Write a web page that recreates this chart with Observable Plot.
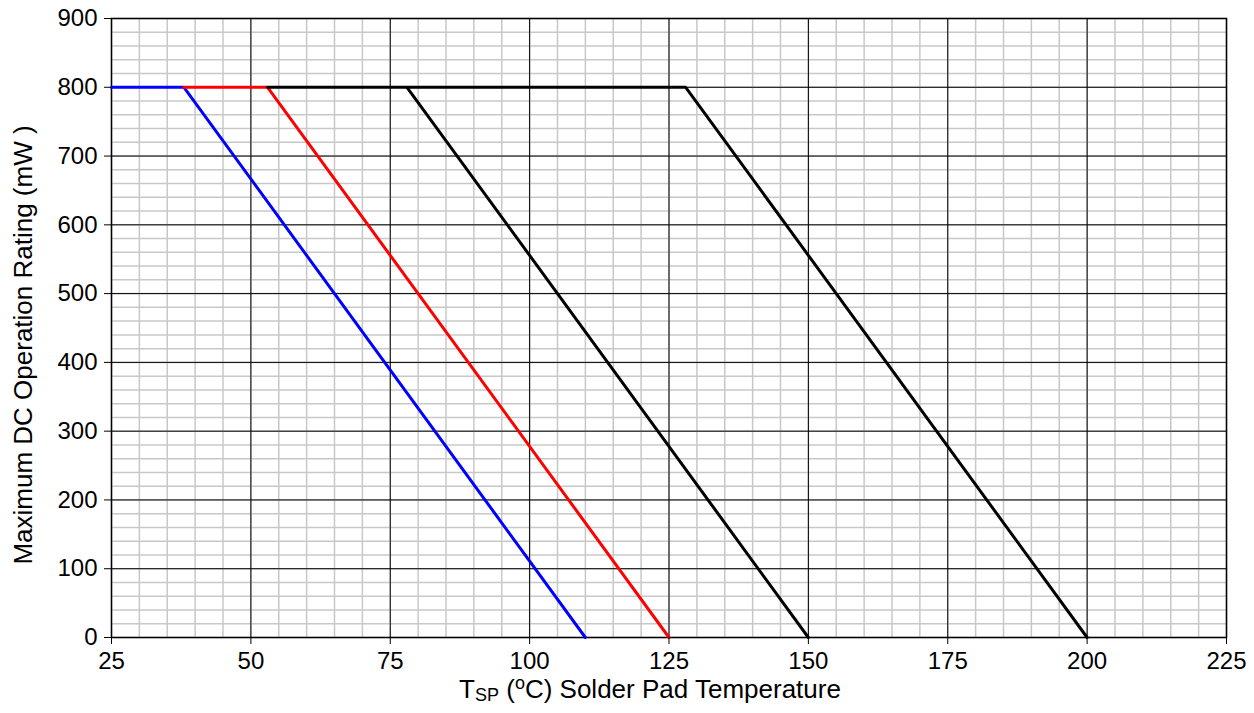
<!DOCTYPE html>
<html>
<head>
<meta charset="utf-8">
<script src="https://cdn.jsdelivr.net/npm/d3@7"></script>
<script src="https://cdn.jsdelivr.net/npm/@observablehq/plot@0.6"></script>
<style>
  html, body { margin: 0; padding: 0; background: #fff; }
  svg { display: block; }
</style>
</head>
<body>
<div id="chart"></div>
<script>
// Data
const blueTemp = [25, 38, 110];
const bluePower = [800, 800, 0];
const redTemp = [38, 53, 125];
const redPower = [800, 800, 0];
const black1Temp = [53, 78, 150];
const black1Power = [800, 800, 0];
const black2Temp = [78, 128, 200];
const black2Power = [800, 800, 0];

const xTicks = [25, 50, 75, 100, 125, 150, 175, 200, 225];
const yTicks = [0, 100, 200, 300, 400, 500, 600, 700, 800, 900];
const xMinor = d3.range(25, 226, 5);
const yMinor = d3.range(0, 901, 20);

const toRows = (t, p) => t.map((v, i) => ({t: v, p: p[i]}));
const series = [
  {rows: toRows(blueTemp, bluePower), color: "#0000ff"},
  {rows: toRows(redTemp, redPower), color: "#ff0000"},
  {rows: toRows(black1Temp, black1Power), color: "#000000"},
  {rows: toRows(black2Temp, black2Power), color: "#000000"}
];

const W = 1254, H = 713;
const FONT = "Liberation Sans, Arial, sans-serif";
const plot = Plot.plot({
  width: W,
  height: H,
  marginLeft: 111,
  marginRight: 28,
  marginTop: 18,
  marginBottom: 76,
  style: {fontFamily: FONT, fontSize: "24px", color: "#000", background: "#fff"},
  x: {domain: [25, 225], label: null},
  y: {domain: [0, 900], label: null},
  marks: [
    Plot.ruleX(xMinor, {stroke: "#c8c8c8", strokeWidth: 1.5}),
    Plot.ruleY(yMinor, {stroke: "#c8c8c8", strokeWidth: 1.5}),
    Plot.ruleX(xTicks, {stroke: "#000", strokeWidth: 1}),
    Plot.ruleY(yTicks, {stroke: "#000", strokeWidth: 1}),
    Plot.frame({stroke: "#000", strokeWidth: 1.5}),
    ...series.map(s => Plot.line(s.rows, {x: "t", y: "p", stroke: s.color, strokeWidth: 3, strokeLinejoin: "miter"})),
    Plot.axisX({ticks: xTicks, tickSize: 7, tickPadding: 7, fontSize: 24, label: null}),
    Plot.axisY({ticks: yTicks, tickSize: 7, tickPadding: 7, fontSize: 24, label: null})
  ]
});

const svg = d3.select(plot);
// X axis title with subscript / superscript
const xt = svg.append("text")
  .attr("x", 650)
  .attr("y", 698)
  .attr("text-anchor", "middle")
  .attr("font-size", 26)
  .attr("font-family", FONT)
  .attr("fill", "#000");
xt.append("tspan").text("T");
xt.append("tspan").attr("font-size", 18).attr("dy", 3).text("SP");
xt.append("tspan").attr("dy", -3).text(" (");
xt.append("tspan").attr("font-size", 18).attr("dy", -9).text("o");
xt.append("tspan").attr("dy", 9).text("C) Solder Pad Temperature");

// Y axis title
svg.append("text")
  .attr("transform", `translate(32, 345) rotate(-90)`)
  .attr("text-anchor", "middle")
  .attr("font-size", 26)
  .attr("font-family", FONT)
  .attr("fill", "#000")
  .text("Maximum DC Operation Rating (mW )");

document.getElementById("chart").appendChild(plot);
</script>
</body>
</html>
